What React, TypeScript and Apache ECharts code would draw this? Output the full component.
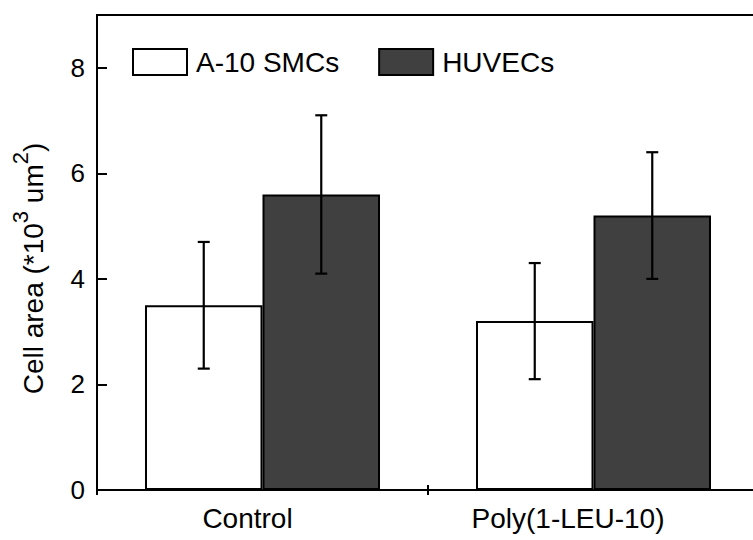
import React, { useEffect, useRef } from "react";
import * as echarts from "echarts";

const categories = ["Control", "Poly(1-LEU-10)"];
const seriesNames = ["A-10 SMCs", "HUVECs"];
const smcValues = [3.5, 3.2];
const huvecValues = [5.6, 5.2];
const smcErrLow = [2.3, 2.1];
const smcErrHigh = [4.7, 4.3];
const huvecErrLow = [4.1, 4.0];
const huvecErrHigh = [7.1, 6.4];
const yTicks = [0, 2, 4, 6, 8];

const CAT_GAP = 0.29;

export default function App() {
  const ref = useRef<HTMLDivElement>(null);
  useEffect(() => {
    if (!ref.current) return;
    const chart = echarts.init(ref.current, null, { renderer: "svg" });
    const font = "Liberation Sans, Arial, sans-serif";

    const makeErr = (idx: number, lo: number[], hi: number[]) => ({
      type: "custom",
      name: seriesNames[idx] + " err",
      z: 10,
      data: categories.map((_, i) => [i, lo[i], hi[i]]),
      renderItem: (params: any, api: any) => {
        const cat = api.value(0);
        const l = api.value(1);
        const h = api.value(2);
        const bandW = api.size([1, 0])[0];
        const barW = (bandW * (1 - CAT_GAP)) / 2;
        const off = idx === 0 ? -barW / 2 : barW / 2;
        const pl = api.coord([cat, l]);
        const ph = api.coord([cat, h]);
        const x = pl[0] + off;
        const cap = 6;
        const st = { stroke: "#000", lineWidth: 2.2 };
        return {
          type: "group",
          children: [
            { type: "line", shape: { x1: x, y1: pl[1], x2: x, y2: ph[1] }, style: st },
            { type: "line", shape: { x1: x - cap, y1: pl[1], x2: x + cap, y2: pl[1] }, style: st },
            { type: "line", shape: { x1: x - cap, y1: ph[1], x2: x + cap, y2: ph[1] }, style: st },
          ],
        };
      },
    });

    chart.setOption({
      animation: false,
      grid: {
        left: 97,
        top: 15,
        bottom: 50,
        right: 5,
        show: true,
        borderColor: "#000",
        borderWidth: 2,
        backgroundColor: "transparent",
      },
      legend: {
        left: 127,
        top: 43,
        icon: "rect",
        itemWidth: 54,
        itemHeight: 26,
        itemGap: 39,
        textStyle: { fontSize: 28, color: "#000", fontFamily: font, padding: [0, 0, 0, 4] },
        data: [
          { name: seriesNames[0], itemStyle: { color: "#fff", borderColor: "#000", borderWidth: 2 } },
          { name: seriesNames[1], itemStyle: { color: "#404040", borderColor: "#000", borderWidth: 2 } },
        ],
      },
      xAxis: [
        {
          type: "category",
          position: "bottom",
          data: [
            { value: categories[0], textStyle: { padding: [0, 30, 0, 0] } },
            { value: categories[1], textStyle: { padding: [0, 51, 0, 0] } },
          ],
          axisLine: { show: true, lineStyle: { color: "#000", width: 2 } },
          axisTick: { show: true, inside: false, length: 5, lineStyle: { color: "#000", width: 2 } },
          axisLabel: { fontSize: 28, color: "#000", fontFamily: font, margin: 14 },
          splitLine: { show: false },
        },
        {
          type: "category",
          position: "top",
          offset: -475,
          data: categories,
          axisLine: { show: false },
          axisTick: { show: true, inside: false, length: 5, lineStyle: { color: "#000", width: 2 } },
          axisLabel: { show: false },
          splitLine: { show: false },
        },
      ],
      yAxis: {
        type: "value",
        min: 0,
        max: 9,
        interval: 2,
        name: "Cell area (*10{sup|3} um{sup|2})",
        nameLocation: "middle",
        nameGap: 40,
        nameTextStyle: {
          fontSize: 28,
          color: "#000",
          fontFamily: font,
          lineHeight: 48,
          padding: [0, 32, 0, 0],
          rich: {
            sup: { fontSize: 22, color: "#000", fontFamily: font, verticalAlign: "top", lineHeight: 22 },
          },
        },
        axisLine: { show: true, lineStyle: { color: "#000", width: 2 } },
        axisTick: { show: true, inside: true, length: 10, lineStyle: { color: "#000", width: 2 } },
        axisLabel: {
          fontSize: 26,
          color: "#000",
          fontFamily: font,
          margin: 12,
          showMaxLabel: false,
          formatter: (v: number) => (yTicks.includes(v) ? String(v) : ""),
        },
        splitLine: { show: false },
      },
      series: [
        {
          type: "bar",
          name: seriesNames[0],
          data: smcValues,
          barGap: "0%",
          barCategoryGap: CAT_GAP * 100 + "%",
          itemStyle: { color: "#fff", borderColor: "#000", borderWidth: 2 },
        },
        {
          type: "bar",
          name: seriesNames[1],
          data: huvecValues,
          barGap: "0%",
          barCategoryGap: CAT_GAP * 100 + "%",
          itemStyle: { color: "#404040", borderColor: "#000", borderWidth: 2 },
        },
        makeErr(0, smcErrLow, smcErrHigh),
        makeErr(1, huvecErrLow, huvecErrHigh),
      ],
    });
    return () => chart.dispose();
  }, []);
  return (
    <div style={{ position: "absolute", left: 0, top: 0, width: 753, height: 540, overflow: "hidden" }}>
      <div ref={ref} style={{ width: 764, height: 540 }} />
    </div>
  );
}
